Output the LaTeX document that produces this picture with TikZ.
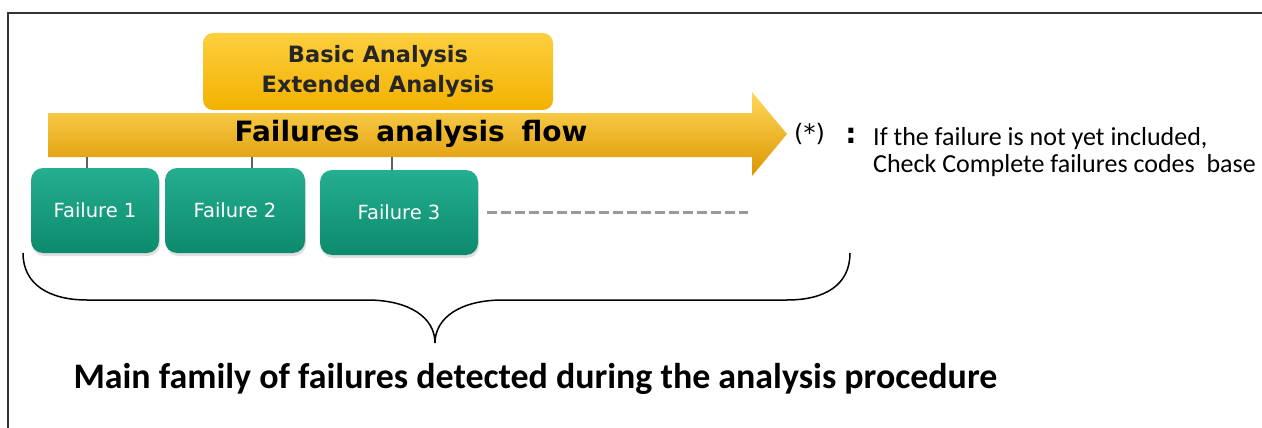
\documentclass[tikz,border=0pt]{standalone}
\usepackage{fontspec}
\newfontfamily\verdfont{DejaVu Sans}
\newfontfamily\calfont{Carlito}
\usetikzlibrary{shadows}
\definecolor{orangetop}{HTML}{FFD95A}
\definecolor{orangemid}{HTML}{F7B600}
\definecolor{orangebot}{HTML}{DC9600}
\definecolor{greentop}{HTML}{25AE90}
\definecolor{greenbot}{HTML}{0D8A6D}
\tikzset{
	failbox/.style={rounded corners=12pt, top color=greentop, bottom color=greenbot,
		text=white, font=\verdfont\fontsize{19.5}{22}\selectfont, minimum height=85pt,
		inner sep=0pt, drop shadow={opacity=0.25, shadow xshift=1pt, shadow yshift=-3pt}},
	anbox/.style={rounded corners=10pt, top color=orangetop!70!orangemid, bottom color=orangemid!85!orangebot,
		minimum width=350pt, minimum height=77pt, align=center, text=black!85,
		font=\verdfont\bfseries\fontsize{22.5}{30}\selectfont},
	link/.style={draw=gray!75!black, line width=2pt},
}
\begin{document}
\begin{tikzpicture}[x=1pt, y=-1pt]
		\useasboundingbox (0,0) rectangle (1262,428);
		\draw[line width=1.6pt, black!80] (8,428) -- (8,13) -- (1262,13);
		\node[anbox] (anal) at (378,71.5) {Basic Analysis\\Extended Analysis};
		% flecha principal
		\shade[top color=orangetop, middle color=orangemid, bottom color=orangebot]
			(48,113) -- (752,113) -- (752,92) -- (787,134) -- (752,176) -- (752,157) -- (48,157) -- cycle;
		\node[anchor=base, font=\verdfont\bfseries\fontsize{28}{30}\selectfont] (flow) at (411,141)
			{\spaceskip=0.6em\relax Failures analysis flow};
		\coordinate (flowbot) at (0,157);
		\node[failbox, minimum width=128pt] (f1) at (95,210.5) {Failure 1};
		\node[failbox, minimum width=140pt] (f2) at (235,210.5) {Failure 2};
		\node[failbox, minimum width=158pt] (f3) at (399,212.5) {Failure 3};
		\draw[link] ([xshift=-8pt]f1.north) -- ([xshift=-8pt]f1.north |- flowbot);
		\draw[link] ([xshift=17pt]f2.north) -- ([xshift=17pt]f2.north |- flowbot);
		\draw[link] ([xshift=-7pt]f3.north) -- ([xshift=-7pt]f3.north |- flowbot);
		\coordinate (more) at (748,212.5);
		\draw[gray!80, line width=2.5pt, dash pattern=on 10pt off 4pt] ([xshift=9pt]f3.east) -- (more);
		\node[anchor=base west, inner sep=0pt, font=\verdfont\fontsize{24}{26}\selectfont] (star) at (794,142) {(*)};
		\node[anchor=base, inner sep=0pt, font=\verdfont\bfseries\fontsize{28}{30}\selectfont] (colon) at (851,143) {:};
		\node[anchor=base west, align=left, inner sep=0pt, font=\calfont\fontsize{26}{27}\selectfont] (note) at (873,172)
			{If the failure is not yet included,\\Check Complete failures codes\ \ base};
		% llave inferior
		\draw[line width=1.5pt] (23,253) .. controls (23,285) and (50,300) .. (87,300) -- (367,300)
			.. controls (410,300) and (435,318) .. (435,343)
			.. controls (435,318) and (460,300) .. (503,300) -- (787,300)
			.. controls (825,300) and (850,285) .. (850,253);
		\node[anchor=base west, font=\calfont\bfseries\fontsize{35.9}{40}\selectfont] (family) at (70,388)
			{Main family of failures detected during the analysis procedure};
\end{tikzpicture}
\end{document}
